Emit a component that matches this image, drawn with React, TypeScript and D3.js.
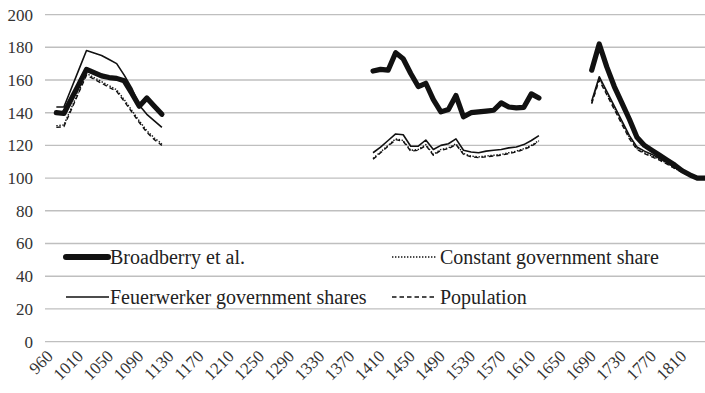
import React from 'react';
import * as d3 from 'd3';

const categories: number[] = [
  960, 980, 990, 1000, 1010, 1020, 1030, 1040, 1050, 1060, 1070, 1080, 1090, 1100, 1110, 1120,
  1130, 1140, 1150, 1160, 1170, 1180, 1190, 1200, 1210, 1220, 1230, 1240, 1250, 1260, 1270, 1280,
  1290, 1300, 1310, 1320, 1330, 1340, 1350, 1360, 1370, 1380, 1390, 1400, 1410, 1420, 1430, 1440,
  1450, 1460, 1470, 1480, 1490, 1500, 1510, 1520, 1530, 1540, 1550, 1560, 1570, 1580, 1590, 1600,
  1610, 1620, 1630, 1640, 1650, 1660, 1670, 1680, 1690, 1700, 1710, 1720, 1730, 1740, 1750, 1760,
  1770, 1780, 1790, 1800, 1810, 1820, 1830, 1840,
];
const xTickLabels: number[] = [960, 1010, 1050, 1090, 1130, 1170, 1210, 1250, 1290, 1330, 1370, 1410, 1450, 1490, 1530, 1570, 1610, 1650, 1690, 1730, 1770, 1810];
const yTicks: number[] = [0, 20, 40, 60, 80, 100, 120, 140, 160, 180, 200];

const songYears = [980, 990, 1000, 1010, 1020, 1030, 1040, 1050, 1060, 1070, 1080, 1090, 1100, 1110, 1120];
const mingYears = [1400, 1410, 1420, 1430, 1440, 1450, 1460, 1470, 1480, 1490, 1500, 1510, 1520, 1530, 1540, 1550, 1560, 1570, 1580, 1590, 1600, 1610, 1620];
const qingYears = [1690, 1700, 1710, 1720, 1730, 1740, 1750, 1760, 1770, 1780, 1790, 1800, 1810, 1820, 1830, 1840];

const broadberrySong = [140, 139.5, 148.5, 157.5, 166.5, 164.5, 162.5, 161.5, 161, 159.5, 152, 144, 149, 144, 139];
const broadberryMing = [165.5, 166.5, 166, 176.7, 173, 164, 156, 158, 148, 140.5, 142, 150.5, 137.5, 140, 140.5, 141, 141.5, 146, 143.5, 143, 143.3, 151.5, 149];
const broadberryQing = [166, 182, 168, 156, 146, 136, 125, 120, 117, 114, 111, 108, 104.5, 102, 100, 100];

const feuerSong = [143.5, 143.5, 155, 166.5, 178, 176.5, 175, 172.5, 170, 163, 155, 144.5, 139, 135, 131];
const feuerMing = [115.5, 119, 123, 127, 126.5, 119.5, 119.5, 123.3, 117.5, 120, 121, 124, 117, 116, 115.5, 116.5, 117, 117.5, 118.5, 119, 120.5, 123, 126];
const feuerQing = [147, 162, 153, 144, 135, 126, 119, 116.5, 114.5, 112, 109.5, 106.5, 104, 102, 100, 100];

const constSong = [132, 132.5, 143, 153.5, 164, 161.5, 159, 156.5, 154, 148, 141.5, 135, 129, 124.5, 121];
const constMing = [112, 116, 120, 124, 123, 117, 117.5, 120.5, 114.5, 117.5, 118.5, 121, 115, 113.5, 113, 113.5, 114, 114.5, 115.5, 116.5, 118, 120, 123];
const constQing = [146, 161, 152, 143, 134, 125, 118, 115.5, 113.5, 111.5, 109, 106, 103.5, 101.5, 100, 100];

const popSong = [131, 131.5, 142, 152.5, 163, 160.5, 158, 155.5, 153, 147, 140.5, 134, 128, 123.5, 120];
const popMing = [111.5, 115.5, 119.5, 123.5, 122.5, 116.5, 117, 120, 114, 117, 118, 120.5, 114.5, 113, 112.5, 113, 113.5, 114, 115, 116, 117.5, 119.5, 122.5];
const popQing = [145.5, 160, 151, 142, 133, 124, 117.5, 115, 113, 111, 108.5, 106, 103.5, 101.5, 100, 100];

const legendLabels = ['Broadberry et al.', 'Constant government share', 'Feuerwerker government shares', 'Population'];

const W = 705;
const H = 393;
const FONT = "'Liberation Serif', 'Times New Roman', 'DejaVu Serif', serif";

export default function App() {
  const x = d3.scalePoint<number>().domain(categories).range([48.8, 704.8]);
  const y = d3.scaleLinear().domain([0, 200]).range([341.6, 14.6]);
  const line = d3
    .line<[number, number]>()
    .x((d) => x(d[0]) as number)
    .y((d) => y(d[1]));

  const clusters = (years: number[][], vals: number[][]) =>
    years.map((ys, k) => line(ys.map((yr, i) => [yr, vals[k][i]] as [number, number])) as string);

  const allYears = [songYears, mingYears, qingYears];
  const series = [
    { paths: clusters(allYears, [popSong, popMing, popQing]), w: 1.4, dash: '4.5,3' },
    { paths: clusters(allYears, [constSong, constMing, constQing]), w: 1.4, dash: '1.4,1.6' },
    { paths: clusters(allYears, [feuerSong, feuerMing, feuerQing]), w: 1.6, dash: undefined },
    { paths: clusters(allYears, [broadberrySong, broadberryMing, broadberryQing]), w: 5.2, dash: undefined },
  ];

  const ts = { fontFamily: FONT } as React.CSSProperties;

  return (
    <svg
      width={W}
      height={H}
      style={{ position: 'absolute', left: 0, top: 0, background: '#fff' }}
    >
      <rect x={0} y={0} width={W} height={H} fill="#fff" />
      {yTicks.map((t) => (
        <g key={t}>
          <line x1={45} x2={W} y1={y(t)} y2={y(t)} stroke="#bfbfbf" strokeWidth={1.4} />
          <text x={33} y={y(t)} dy="0.35em" textAnchor="end" fontSize={17} fill="#333" style={ts}>
            {t}
          </text>
        </g>
      ))}
      {xTickLabels.map((t) => (
        <text
          key={t}
          transform={`translate(${(x(t) as number) + 1},${353}) rotate(-45)`}
          textAnchor="end"
          dy="0.35em"
          fontSize={17}
          fill="#333"
          style={ts}
        >
          {t}
        </text>
      ))}
      {series.map((s, i) =>
        s.paths.map((p, j) => (
          <path
            key={`${i}-${j}`}
            d={p}
            fill="none"
            stroke="#111"
            strokeWidth={s.w}
            strokeDasharray={s.dash}
            strokeLinejoin="round"
            strokeLinecap={s.w > 3 ? 'round' : 'butt'}
          />
        ))
      )}
      <g>
        <line x1={66} x2={108} y1={257} y2={257} stroke="#111" strokeWidth={6} strokeLinecap="round" />
        <text x={110} y={257} dy="0.35em" fontSize={20} fill="#222" style={ts}>{legendLabels[0]}</text>
        <line x1={392} x2={437} y1={257} y2={257} stroke="#111" strokeWidth={1.4} strokeDasharray="1.4,1.6" />
        <text x={440} y={257} dy="0.35em" fontSize={20} fill="#222" style={ts}>{legendLabels[1]}</text>
        <line x1={66} x2={109} y1={297} y2={297} stroke="#111" strokeWidth={1.6} />
        <text x={110} y={297} dy="0.35em" fontSize={20} fill="#222" style={ts}>{legendLabels[2]}</text>
        <line x1={392} x2={435} y1={297} y2={297} stroke="#111" strokeWidth={1.4} strokeDasharray="4.5,3" />
        <text x={440} y={297} dy="0.35em" fontSize={20} fill="#222" style={ts}>{legendLabels[3]}</text>
      </g>
    </svg>
  );
}
